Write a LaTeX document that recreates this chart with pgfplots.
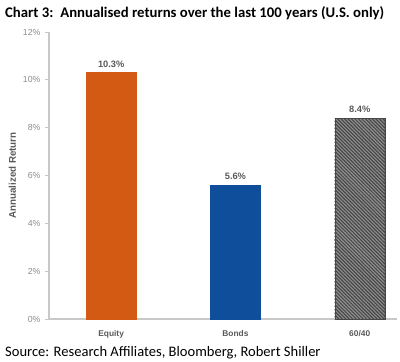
\documentclass[border=0pt]{standalone}
\usepackage{pgfplots}
\pgfplotsset{compat=1.18}
\usepackage{fontspec}
\setmainfont{Carlito}
\newfontfamily\arialf{Liberation Sans}
\usetikzlibrary{patterns.meta}
\definecolor{eqc}{HTML}{D35A13}
\definecolor{bdc}{HTML}{0E4E9A}
\definecolor{axc}{HTML}{C8C8C8}
\definecolor{tkc}{HTML}{8C8C8C}
\definecolor{lbc}{HTML}{595959}
\tikzdeclarepattern{
  name=mystripes,
  type=uncolored,
  bottom left={(-.1pt,-.1pt)},
  top right={(3.6pt,3.6pt)},
  tile size={(3.5pt,3.5pt)},
  code={
    \draw[line width=1.1pt] (-0.5pt,4pt) -- (4pt,-0.5pt);
    \draw[line width=1.1pt] (-2pt,1.5pt) -- (1.5pt,-2pt);
    \draw[line width=1.1pt] (2pt,5.5pt) -- (5.5pt,2pt);
  }
}
\begin{document}
\begin{tikzpicture}[x=1bp,y=1bp]
\useasboundingbox (0,0) rectangle (400,362);
\node[anchor=base west,inner sep=0pt,font=\bfseries\fontsize{14.8}{16}\selectfont] at (5,345) {Chart 3:\, Annualised returns over the last 100 years (U.S. only)};
\node[anchor=base west,inner sep=0pt,font=\fontsize{14.6}{17}\selectfont] at (5,6) {Source: Research Affiliates, Bloomberg, Robert Shiller};
\begin{axis}[
  at={(49bp,43bp)}, anchor=south west,
  scale only axis, width=348bp, height=287bp,
  xmin=-0.5, xmax=2.3, ymin=0, ymax=12,
  axis x line*=bottom, axis y line*=left,
  axis line style={axc, line width=1.2pt, -},
  ytick={0,2,4,6,8,10,12},
  yticklabel={\pgfmathprintnumber{\tick}\%},
  yticklabel style={font=\arialf\fontsize{8.8}{10}\selectfont, text=tkc, xshift=-1bp},
  /pgf/number format/assume math mode=true,
  ytick style={axc, line width=0.8pt},
  tick align=outside, major tick length=4bp,
  xtick={0,1,2}, xticklabels={Equity,Bonds,60/40},
  xtick style={draw=none},
  xticklabel style={font=\arialf\bfseries\fontsize{8.4}{10}\selectfont, text=lbc, yshift=-4bp},
  ylabel={Annualized Return},
  ylabel style={font=\arialf\bfseries\fontsize{9.8}{11}\selectfont, text=lbc, yshift=0bp},
  ybar, bar width=50bp, bar shift=0pt,
  nodes near coords={\pgfmathprintnumber[fixed,precision=1,fixed zerofill]{\pgfplotspointmeta}\%},
  nodes near coords style={font=\arialf\bfseries\fontsize{9.3}{10}\selectfont, text=lbc, yshift=2bp},
]
\addplot[fill=eqc, draw=eqc] coordinates {(0,10.3)};
\addplot[fill=bdc, draw=bdc] coordinates {(1,5.6)};
\addplot[fill=black!72, draw=black!72] coordinates {(2,8.4)};
\addplot[pattern={mystripes}, pattern color=black!45, draw=black!72, nodes near coords={}] coordinates {(2,8.4)};
\end{axis}
\end{tikzpicture}
\end{document}
